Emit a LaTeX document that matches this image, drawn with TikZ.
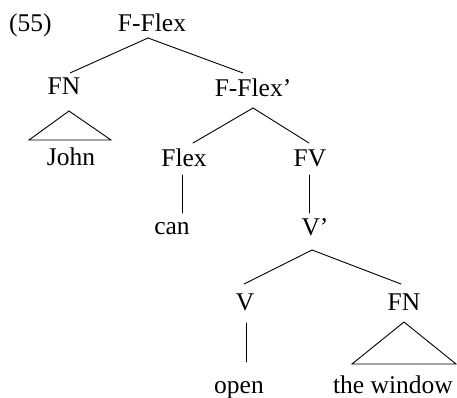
\documentclass[tikz,border=0pt]{standalone}
\usepackage{fontspec}
\setmainfont{Liberation Serif}
\begin{document}
\begin{tikzpicture}[x=1pt,y=-1pt,
  lab/.style={inner sep=0pt, anchor=base, font=\fontsize{25.5}{30}\selectfont},
  branch/.style={line width=0.9pt, line cap=round, line join=miter}]
\useasboundingbox[fill=white] (0,0) rectangle (457,398);

% labels (placed by their baselines)
\node[lab, anchor=base west] (ex) at (9,32) {(55)};
\node[lab] (FFlex)  at (152,32)  {F-Flex};
\node[lab] (FNa)    at (64,95)   {FN};
\node[lab] (FFlexp) at (253,97)  {F-Flex'};
\node[lab] (John)   at (71,165)  {John};
\node[lab] (Flex)   at (184,166) {Flex};
\node[lab] (FV)     at (310,166) {FV};
\node[lab] (can)    at (172,234) {can};
\node[lab] (Vbar)   at (315,235) {V'};
\node[lab] (V)      at (245,310) {V};
\node[lab] (FNb)    at (404,310) {FN};
\node[lab] (open)   at (239,393) {open};
\node[lab] (win)    at (393,393) {the window};

% branches
\draw[branch] ([shift={(-4,6)}]FFlex.base) -- ([shift={(6,-22)}]FNa.base);
\draw[branch] ([shift={(-4,6)}]FFlex.base) -- ([shift={(-10,-24)}]FFlexp.base);
\draw[branch] ([shift={(0,11)}]FFlexp.base) -- ([shift={(9,-23)}]Flex.base);
\draw[branch] ([shift={(0,11)}]FFlexp.base) -- ([shift={(-1,-23)}]FV.base);
\draw[branch] ([shift={(-2,9)}]Flex.base) -- ([shift={(10,-21)}]can.base);
\draw[branch] ([shift={(-1,9)}]FV.base) -- ([shift={(-6,-22)}]Vbar.base);
\draw[branch] ([shift={(-3,15)}]Vbar.base) -- ([shift={(-1,-26)}]V.base);
\draw[branch] ([shift={(-3,15)}]Vbar.base) -- ([shift={(-3,-26)}]FNb.base);
\draw[branch] ([shift={(1,13)}]V.base) -- ([shift={(7,-31)}]open.base);

% roofs over unanalysed phrases
\draw[branch] ([shift={(5,16)}]FNa.base) -- ([shift={(-42,-25)}]John.base)
  -- ([shift={(40,-25)}]John.base) -- cycle;
\draw[branch] ([shift={(0,12)}]FNb.base) -- ([shift={(-41,-29)}]win.base)
  -- ([shift={(63,-29)}]win.base) -- cycle;
\end{tikzpicture}
\end{document}
